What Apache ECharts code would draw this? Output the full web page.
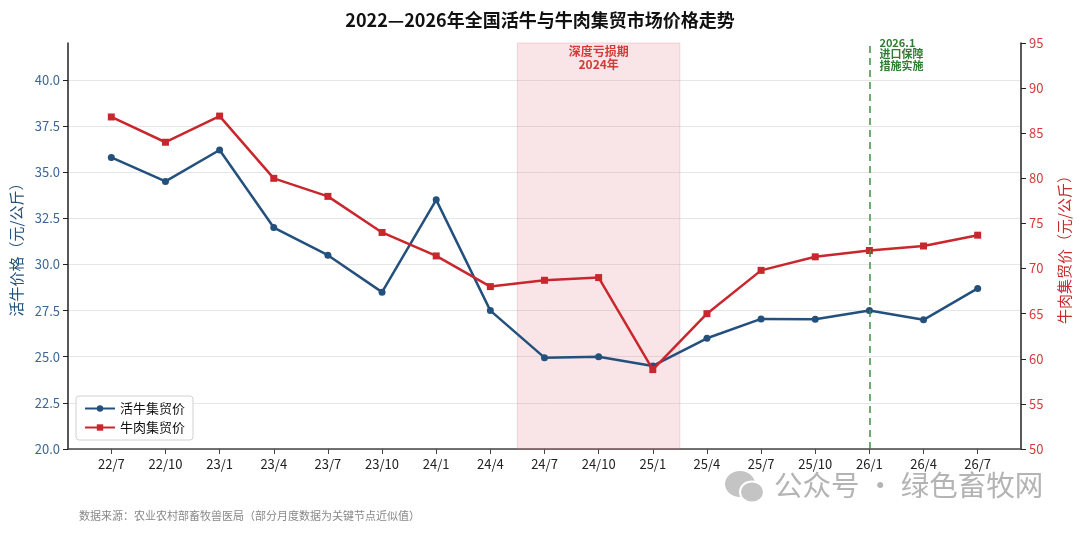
<!DOCTYPE html>
<html><head><meta charset="utf-8">
<script src="https://cdn.jsdelivr.net/npm/echarts@6/dist/echarts.min.js"></script>
<style>html,body{margin:0;padding:0;background:#fff}#c{width:1080px;height:533px}</style>
</head><body><div id="c"></div>
<script>
const categories = ['22/7','22/10','23/1','23/4','23/7','23/10','24/1','24/4','24/7','24/10','25/1','25/4','25/7','25/10','26/1','26/4','26/7'];
const cattlePrice = [35.8,34.5,36.2,32.0,30.5,28.5,33.5,27.5,24.95,25.0,24.5,26.0,27.05,27.03,27.5,27.0,28.7];
const beefPrice = [86.8,84.0,86.9,80.0,78.0,74.0,71.4,68.0,68.7,69.0,58.8,65.0,69.8,71.3,72.0,72.5,73.7];
const leftTicks = [20,22.5,25,27.5,30,32.5,35,37.5,40];
const rightTicks = [50,55,60,65,70,75,80,85,90,95];
const lossPeriod = [7.5, 10.5];
const policyIndex = 14;

const FONT = '"Noto Sans CJK SC","Noto Sans",sans-serif';
const BLUE = '#23507d', RED = '#c8282d', GREEN = '#3a8a3a';
const chart = echarts.init(document.getElementById('c'));
const idx = categories.map((_, i) => i);
chart.setOption({
  animation: false,
  textStyle: {fontFamily: FONT},
  title: {text: '2022—2026年全国活牛与牛肉集贸市场价格走势', left: 'center', top: 6,
    textStyle: {fontFamily: FONT, fontSize: 18, fontWeight: 'bold', color: '#111'}},
  grid: {left: 68, right: 57, top: 43, bottom: 84},
  legend: {left: 76, top: 396, orient: 'vertical', itemGap: 6, itemWidth: 30, itemHeight: 8,
    backgroundColor: '#fff', borderColor: '#d0d0d0', borderWidth: 1, borderRadius: 3, padding: [6, 8, 6, 8],
    textStyle: {fontFamily: FONT, fontSize: 13, color: '#111'},
    data: ['活牛集贸价', '牛肉集贸价']},
  xAxis: {type: 'value', min: -0.8, max: 16.8,
    axisLine: {onZero: false, lineStyle: {color: '#444', width: 1.5}},
    axisTick: {customValues: idx, length: 5, lineStyle: {color: '#444'}},
    axisLabel: {customValues: idx, formatter: v => categories[Math.round(v)], fontSize: 13, color: '#222', margin: 9, fontFamily: FONT},
    splitLine: {show: false}},
  yAxis: [
    {type: 'value', min: 20, max: 42, interval: 2.5, position: 'left',
     name: '活牛价格（元/公斤）', nameLocation: 'middle', nameGap: 44,
     nameTextStyle: {color: BLUE, fontSize: 15, fontFamily: FONT},
     axisLine: {show: true, onZero: false, lineStyle: {color: '#222', width: 1.5}},
     axisTick: {show: true, customValues: leftTicks, length: 5, lineStyle: {color: '#222'}},
     axisLabel: {customValues: leftTicks, formatter: v => v.toFixed(1), color: '#3a6796', fontSize: 13, margin: 8, fontFamily: FONT},
     splitLine: {show: true, lineStyle: {color: '#e6e6e6', width: 1}}},
    {type: 'value', min: 50, max: 95, interval: 5, position: 'right',
     name: '牛肉集贸价（元/公斤）', nameLocation: 'middle', nameGap: 36, nameRotate: 90,
     nameTextStyle: {color: RED, fontSize: 15, fontFamily: FONT},
     axisLine: {show: true, onZero: false, lineStyle: {color: '#222', width: 1.5}},
     axisTick: {show: true, customValues: rightTicks, length: 5, lineStyle: {color: '#222'}},
     axisLabel: {customValues: rightTicks, color: '#d53a3a', fontSize: 13, margin: 8, fontFamily: FONT},
     splitLine: {show: false}}
  ],
  series: [
    {name: '活牛集贸价', type: 'line', yAxisIndex: 0, data: cattlePrice.map((v, i) => [i, v]),
     symbol: 'circle', symbolSize: 7, lineStyle: {color: BLUE, width: 2.5}, itemStyle: {color: BLUE}, z: 3,
     markArea: {silent: true,
       itemStyle: {color: 'rgba(222,110,120,0.18)', borderColor: 'rgba(222,110,120,0.25)', borderWidth: 1},
       label: {show: true, position: 'insideTop', distance: 2, formatter: '深度亏损期\n2024年',
         color: '#d33a3a', fontSize: 12, fontWeight: 'bold', lineHeight: 13, fontFamily: FONT},
       data: [[{xAxis: lossPeriod[0]}, {xAxis: lossPeriod[1]}]]},
     markLine: {silent: true, symbol: 'none',
       lineStyle: {color: GREEN, type: [7, 5], width: 1.8, opacity: 0.8},
       label: {show: false},
       data: [{xAxis: policyIndex}]}},
    {name: '牛肉集贸价', type: 'line', yAxisIndex: 1, data: beefPrice.map((v, i) => [i, v]),
     symbol: 'rect', symbolSize: 7, lineStyle: {color: RED, width: 2.5}, itemStyle: {color: RED}, z: 4}
  ]
});
const p = chart.convertToPixel({xAxisIndex: 0, yAxisIndex: 0}, [policyIndex, 42]);
chart.setOption({graphic: [
  {type: 'text', left: p[0] + 10, top: 37, style: {text: '2026.1\n进口保障\n措施实施', fill: '#2e7d32',
    font: 'bold 11px ' + FONT, lineHeight: 11.5}},
  {type: 'text', left: 79, top: 510, style: {text: '数据来源：农业农村部畜牧兽医局（部分月度数据为关键节点近似值）',
    fill: '#888', font: '11px ' + FONT}},
  {type: 'ellipse', shape: {cx: 740, cy: 484, rx: 15, ry: 13}, style: {fill: '#c4c4c4'}},
  {type: 'ellipse', shape: {cx: 752, cy: 492, rx: 12, ry: 10.5}, style: {fill: '#c4c4c4', stroke: '#fff', lineWidth: 2}},
  {type: 'text', left: 774, top: 471, style: {text: '公众号 · 绿色畜牧网', fill: '#b4b4b4',
    font: '28.5px ' + FONT}}
]});
</script></body></html>
